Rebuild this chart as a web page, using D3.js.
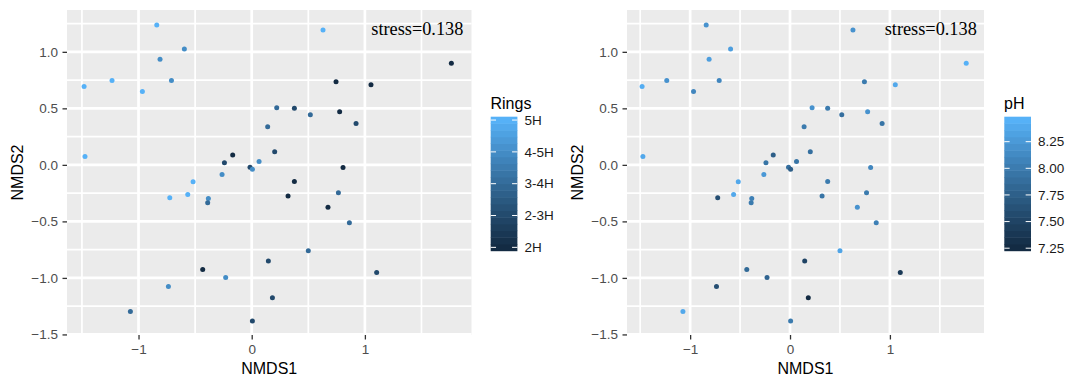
<!DOCTYPE html>
<html><head><meta charset="utf-8">
<script src="https://cdn.jsdelivr.net/npm/d3@7"></script>
<style>body{margin:0;background:#fff}svg{display:block}</style>
</head><body>
<svg id="chart" width="1077" height="378"></svg>
<script>
// NMDS coordinates (shared by both panels)
const nmds1 = [-1.481,-1.234,-0.839,-0.595,-0.81,-0.709,-0.966,-1.473,0.221,0.141,0.203,-0.168,-0.241,-0.015,0.006,0.065,-0.262,-0.518,0.63,1.764,0.745,1.054,0.377,0.518,0.777,0.922,0.807,0.377,-0.724,-0.565,-0.383,-0.389,-0.433,-0.23,-0.736,-1.072,0.147,0.183,0.006,0.321,0.766,0.674,0.863,0.5,1.104];
const nmds2 = [0.694,0.747,1.238,1.024,0.935,0.747,0.650,0.073,0.506,0.338,0.117,0.088,0.018,-0.02,-0.038,0.029,-0.086,-0.15,1.194,0.9,0.735,0.709,0.5,0.444,0.47,0.365,-0.024,-0.147,-0.291,-0.262,-0.297,-0.335,-0.926,-0.997,-1.076,-1.297,-0.85,-1.176,-1.382,-0.276,-0.247,-0.376,-0.512,-0.759,-0.953];
// Rings coded 1 = 2H ... 5 = 5H
const rings = [5,5,5,4,4,4,5,5,3,3,2,1,2,2,4,4,4,5,5,1,1,1,2,3,1,2,1,1,5,5,4,3,1,4,4,3,2,2,2,1,3,1,3,3,2];
const ph = [8.42,8.2,8.2,8.3,8.3,8.1,8.1,8.38,8.2,8.0,7.9,7.75,7.95,7.9,7.75,7.95,8.25,8.38,8.2,8.45,8.0,8.38,8.0,7.9,8.2,7.95,8.1,8.0,7.6,8.38,8.05,8.0,7.85,7.8,7.6,8.38,7.5,7.26,8.0,7.95,8.0,8.2,8.05,8.35,7.4];
const ringBreaks = [1,2,3,4,5];
const ringLabels = ["2H","2-3H","3-4H","4-5H","5H"];
const phBreaks = [7.25,7.5,7.75,8.0,8.25];
const phLabels = ["7.25","7.50","7.75","8.00","8.25"];
const xTicks = [-1,0,1];
const xTickLabels = ["\u22121","0","1"];
const yTicks = [-1.5,-1,-0.5,0,0.5,1];
const yTickLabels = ["\u22121.5","\u22121.0","\u22120.5","0.0","0.5","1.0"];
const xMinor = [-1.5,-0.5,0.5,1.5];
const yMinor = [-1.25,-0.75,-0.25,0.25,0.75,1.25];
const stressText = "stress=0.138";

const svg = d3.select("#chart");
const low = "#132B43", high = "#56B1F7";
const font = "'Liberation Sans', Arial, sans-serif";

const panels = [
  {x0:67, x1:471.5, vals:rings, dom:[1,5], breaks:ringBreaks, labels:ringLabels, title:"Rings", lx:490.7, titleX:490.5},
  {x0:627, x1:984, vals:ph, dom:[7.258,8.453], breaks:phBreaks, labels:phLabels, title:"pH", lx:1004.3, titleX:1004}
];
const yTop = 10, yBot = 335;
const y = d3.scaleLinear().domain([-1.505,1.37]).range([yBot,yTop]);

panels.forEach(p => {
  const x = d3.scaleLinear().domain([-1.632,1.942]).range([p.x0,p.x1]);
  const col = d3.scaleLinear().domain(p.dom).range([low,high]).interpolate(d3.interpolateLab);
  const g = svg.append("g");
  g.append("rect").attr("x",p.x0).attr("y",yTop).attr("width",p.x1-p.x0).attr("height",yBot-yTop).attr("fill","#EBEBEB");
  // minor grid
  g.selectAll(".vmin").data(xMinor).enter().append("line")
    .attr("x1",d=>x(d)).attr("x2",d=>x(d)).attr("y1",yTop).attr("y2",yBot)
    .attr("stroke","#fff").attr("stroke-width",1.7);
  g.selectAll(".hmin").data(yMinor).enter().append("line")
    .attr("y1",d=>y(d)).attr("y2",d=>y(d)).attr("x1",p.x0).attr("x2",p.x1)
    .attr("stroke","#fff").attr("stroke-width",1.7);
  // major grid
  g.selectAll(".vmaj").data(xTicks).enter().append("line")
    .attr("x1",d=>x(d)).attr("x2",d=>x(d)).attr("y1",yTop).attr("y2",yBot)
    .attr("stroke","#fff").attr("stroke-width",2.7);
  g.selectAll(".hmaj").data(yTicks).enter().append("line")
    .attr("y1",d=>y(d)).attr("y2",d=>y(d)).attr("x1",p.x0).attr("x2",p.x1)
    .attr("stroke","#fff").attr("stroke-width",2.7);

  // axes
  const xAxis = d3.axisBottom(x).tickValues(xTicks).tickFormat((d,i)=>xTickLabels[i]).tickSize(4.5).tickPadding(5.3);
  const ax = g.append("g").attr("transform",`translate(0,${yBot})`).call(xAxis);
  const yAxis = d3.axisLeft(y).tickValues(yTicks).tickFormat((d,i)=>yTickLabels[i]).tickSize(4.5).tickPadding(4.5);
  const ay = g.append("g").attr("transform",`translate(${p.x0},0)`).call(yAxis);
  [ax,ay].forEach(a=>{
    a.select(".domain").remove();
    a.selectAll(".tick line").attr("stroke","#333").attr("stroke-width",1.3);
    a.selectAll(".tick text").attr("fill","#4D4D4D").attr("font-family",font).attr("font-size",13.5);
  });

  // axis titles
  g.append("text").attr("x",(p.x0+p.x1)/2).attr("y",374).attr("text-anchor","middle")
    .attr("font-family",font).attr("font-size",16).attr("fill","#000").text("NMDS1");
  g.append("text").attr("transform",`translate(${p.x0-44},${(yTop+yBot)/2}) rotate(-90)`)
    .attr("text-anchor","middle").attr("font-family",font).attr("font-size",16).attr("fill","#000").text("NMDS2");

  // points
  g.selectAll(".pt").data(nmds1.map((d,i)=>i)).enter().append("circle")
    .attr("cx",i=>x(nmds1[i])).attr("cy",i=>y(nmds2[i])).attr("r",2.5)
    .attr("fill",i=>col(p.vals[i]));

  // stress annotation
  g.append("text").attr("x",x(1.87)).attr("y",y(1.15)).attr("text-anchor","end")
    .attr("font-family","'Liberation Serif','Times New Roman',serif").attr("font-size",18.3)
    .attr("fill","#000").text(stressText);

  // legend colourbar
  const barTop = 116.7, barBot = 250.7, barW = 26.7, nbin = 20;
  const binH = (barBot-barTop)/nbin;
  const ly = d3.scaleLinear().domain(p.dom).range([barBot-binH/2, barTop+binH/2]);
  const bins = d3.range(nbin).map(k => p.dom[0] + (p.dom[1]-p.dom[0])*k/(nbin-1));
  g.selectAll(".bin").data(bins).enter().append("rect")
    .attr("x",p.lx).attr("width",barW)
    .attr("y",(d,k)=>barBot-(k+1)*binH).attr("height",binH+0.5)
    .attr("fill",d=>col(d));
  g.selectAll(".lt1").data(p.breaks).enter().append("line")
    .attr("x1",p.lx).attr("x2",p.lx+barW/5).attr("y1",d=>ly(d)).attr("y2",d=>ly(d))
    .attr("stroke","#fff").attr("stroke-width",1);
  g.selectAll(".lt2").data(p.breaks).enter().append("line")
    .attr("x1",p.lx+barW*4/5).attr("x2",p.lx+barW).attr("y1",d=>ly(d)).attr("y2",d=>ly(d))
    .attr("stroke","#fff").attr("stroke-width",1);
  g.selectAll(".ll").data(p.breaks).enter().append("text")
    .attr("x",p.lx+barW+7).attr("y",d=>ly(d)).attr("dy","0.35em")
    .attr("font-family",font).attr("font-size",13.5).attr("fill","#1a1a1a")
    .text((d,i)=>p.labels[i]);
  g.append("text").attr("x",p.titleX).attr("y",108.5)
    .attr("font-family",font).attr("font-size",16).attr("fill","#000").text(p.title);
});
</script>
</body></html>
